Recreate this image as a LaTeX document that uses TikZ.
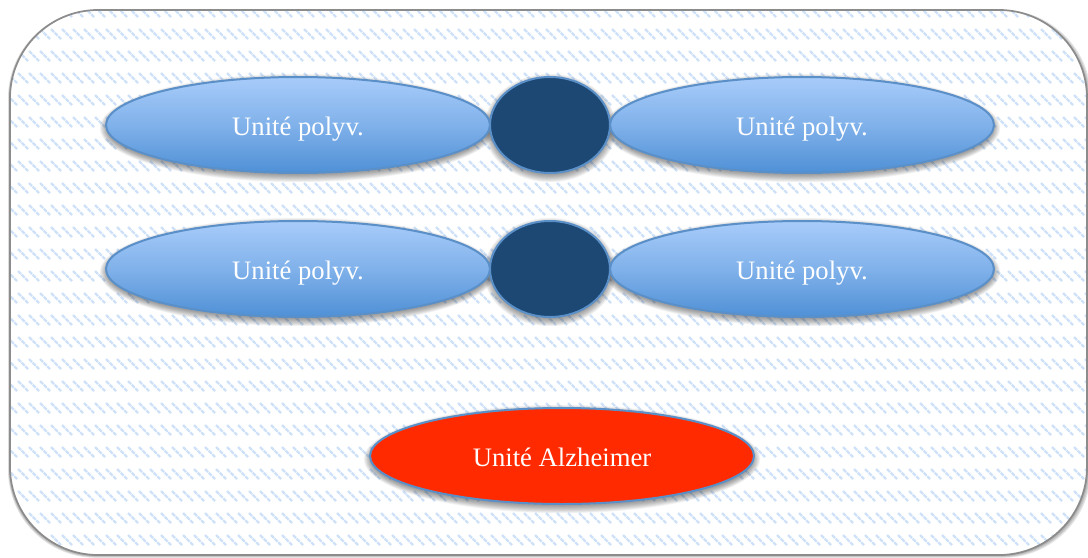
\documentclass[tikz,border=0pt]{standalone}
\usepackage{fontspec}
\setmainfont{Liberation Serif}
\usetikzlibrary{shapes.geometric}
\definecolor{hatch}{HTML}{CFE1F8}
\definecolor{frameline}{HTML}{8C8C8C}
\definecolor{blueedge}{HTML}{5A8FC8}
\definecolor{bluetop}{HTML}{A8CCFA}
\definecolor{bluebot}{HTML}{4F90D6}
\definecolor{navy}{HTML}{1C4873}
\definecolor{alzred}{HTML}{FF2A00}
\newcommand{\softshadow}[4]{%
  \foreach \g in {9,8,7,6,5,4,3,2,1,0}{%
    \fill[black,opacity=0.045] (#1,#2+3) ellipse [x radius=#3+\g*0.8-1,y radius=#4+\g*0.8-1];}}
\newcommand{\lbl}[1]{\raisebox{-7.5pt}[0pt][0pt]{#1}}
\tikzset{
  x=0.75pt,y=-0.75pt,
  base/.style={ellipse,draw=blueedge,line width=1.5pt,inner sep=0pt,text=white,font=\fontsize{20}{22}\selectfont,minimum height=72pt},
  unit/.style={base,minimum width=288pt,top color=bluetop,bottom color=bluebot,middle color=bluetop!55!bluebot},
  hub/.style={base,minimum width=90pt,fill=navy},
  alz/.style={base,minimum width=288pt,fill=alzred},
  frame/.style={draw=frameline,line width=1.3pt,rounded corners=66pt},
  hatchline/.style={draw=hatch,line width=1.8pt,line cap=butt,dash pattern=on 3.2pt off 0.7pt}
}
\begin{document}
\begin{tikzpicture}
\useasboundingbox (0,0) rectangle (1088,557);
\begin{scope}
\clip (0,0) rectangle (1088,557);
\foreach \g in {4,3,2,1}{
  \fill[black,opacity=0.10,rounded corners=66pt] (10-\g*0.5,12-\g*0.5) rectangle (1087+\g,555+\g*0.7);}
\fill[white,rounded corners=66pt] (10,10) rectangle (1087,555);
\clip[rounded corners=66pt] (10,10) rectangle (1087,555);
\foreach \r in {0,...,24}{
  \foreach \c in {-1,...,99}{
    \draw[hatchline] ({\c*11+7},{\r*22+7}) -- ++(10,10);
  }
}
\end{scope}
\draw[frame] (10,10) rectangle (1087,555);
\softshadow{298}{125}{192}{48}
\softshadow{802}{125}{192}{48}
\softshadow{298}{269}{192}{48}
\softshadow{802}{269}{192}{48}
\softshadow{550}{125}{60}{48}
\softshadow{550}{269}{60}{48}
\softshadow{562}{456}{192}{48}
\node[unit] (a1) at (298,125) {\lbl{Unité polyv.}};
\node[unit] (a2) at (802,125) {\lbl{Unité polyv.}};
\node[unit] (b1) at (298,269) {\lbl{Unité polyv.}};
\node[unit] (b2) at (802,269) {\lbl{Unité polyv.}};
\node[hub] (h1) at (550,125) {};
\node[hub] (h2) at (550,269) {};
\node[alz] (z) at (562,456) {\lbl{Unité Alzheimer}};
\end{tikzpicture}
\end{document}
